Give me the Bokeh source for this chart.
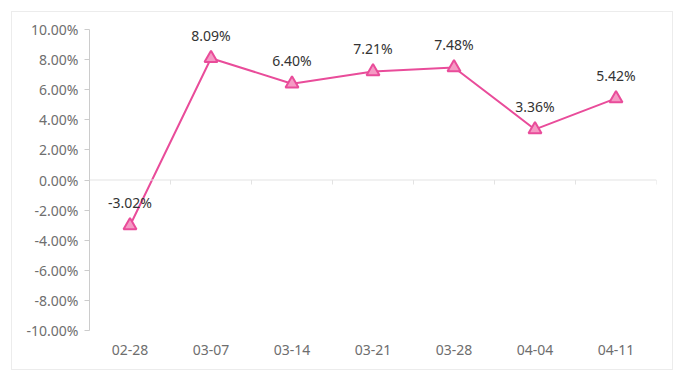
from bokeh.plotting import figure
from bokeh.models import FactorRange, Range1d, FixedTicker, PrintfTickFormatter, Span, ColumnDataSource
from bokeh.core.properties import value
from bokeh.embed import file_html
from bokeh.resources import INLINE

categories = ["02-28", "03-07", "03-14", "03-21", "03-28", "04-04", "04-11"]
values = [-3.02, 8.09, 6.40, 7.21, 7.48, 3.36, 5.42]
y_ticks = [-10, -8, -6, -4, -2, 0, 2, 4, 6, 8, 10]

FONT = "Noto Sans"
LINE = "#e94c9a"

src = ColumnDataSource(dict(x=categories, y=values, lbl=["%.2f%%" % v for v in values]))

p = figure(x_range=FactorRange(*categories), y_range=Range1d(-10, 10),
           width=662, height=359, output_backend="svg", toolbar_location=None,
           min_border_left=77, min_border_right=18, min_border_top=17, min_border_bottom=41)
p.margin = (11, 0, 0, 11)
p.styles = {"border": "1px solid #ececec", "box-sizing": "border-box"}
p.outline_line_color = None
p.xgrid.grid_line_color = None
p.ygrid.grid_line_color = None
p.background_fill_color = "white"
p.border_fill_color = "white"

# zero line and category boundary ticks
p.add_layout(Span(location=0, dimension="width", line_color="#e3e3e3", line_width=1))
n = len(categories)
p.segment(x0=list(range(1, n + 1)), x1=list(range(1, n + 1)), y0=[0] * n, y1=[-0.3] * n,
          line_color="#e3e3e3", line_width=1)

p.line("x", "y", source=src, line_color=LINE, line_width=2)
p.scatter("x", "y", source=src, marker="triangle", size=13, fill_color="#f59ac4",
          line_color=LINE, line_width=2)
p.text("x", "y", text="lbl", source=src, y_offset=-23, text_align="center",
       text_baseline="middle", text_font=value(FONT), text_font_size="14px", text_color="#333333")

ya = p.yaxis[0]
ya.ticker = FixedTicker(ticks=y_ticks)
ya.formatter = PrintfTickFormatter(format="%.2f%%")
ya.axis_line_color = "#cccccc"
ya.major_tick_line_color = "#cccccc"
ya.major_tick_out = 5
ya.major_tick_in = 0
ya.minor_tick_line_color = None
ya.major_label_text_color = "#6e6e6e"
ya.major_label_text_font = FONT
ya.major_label_text_font_size = "14px"
ya.major_label_standoff = 6

xa = p.xaxis[0]
xa.axis_line_color = None
xa.major_tick_line_color = None
xa.minor_tick_line_color = None
xa.major_label_text_color = "#6e6e6e"
xa.major_label_text_font = FONT
xa.major_label_text_font_size = "14px"
xa.major_label_standoff = 8

open("out.html", "w").write(file_html(p, INLINE))
